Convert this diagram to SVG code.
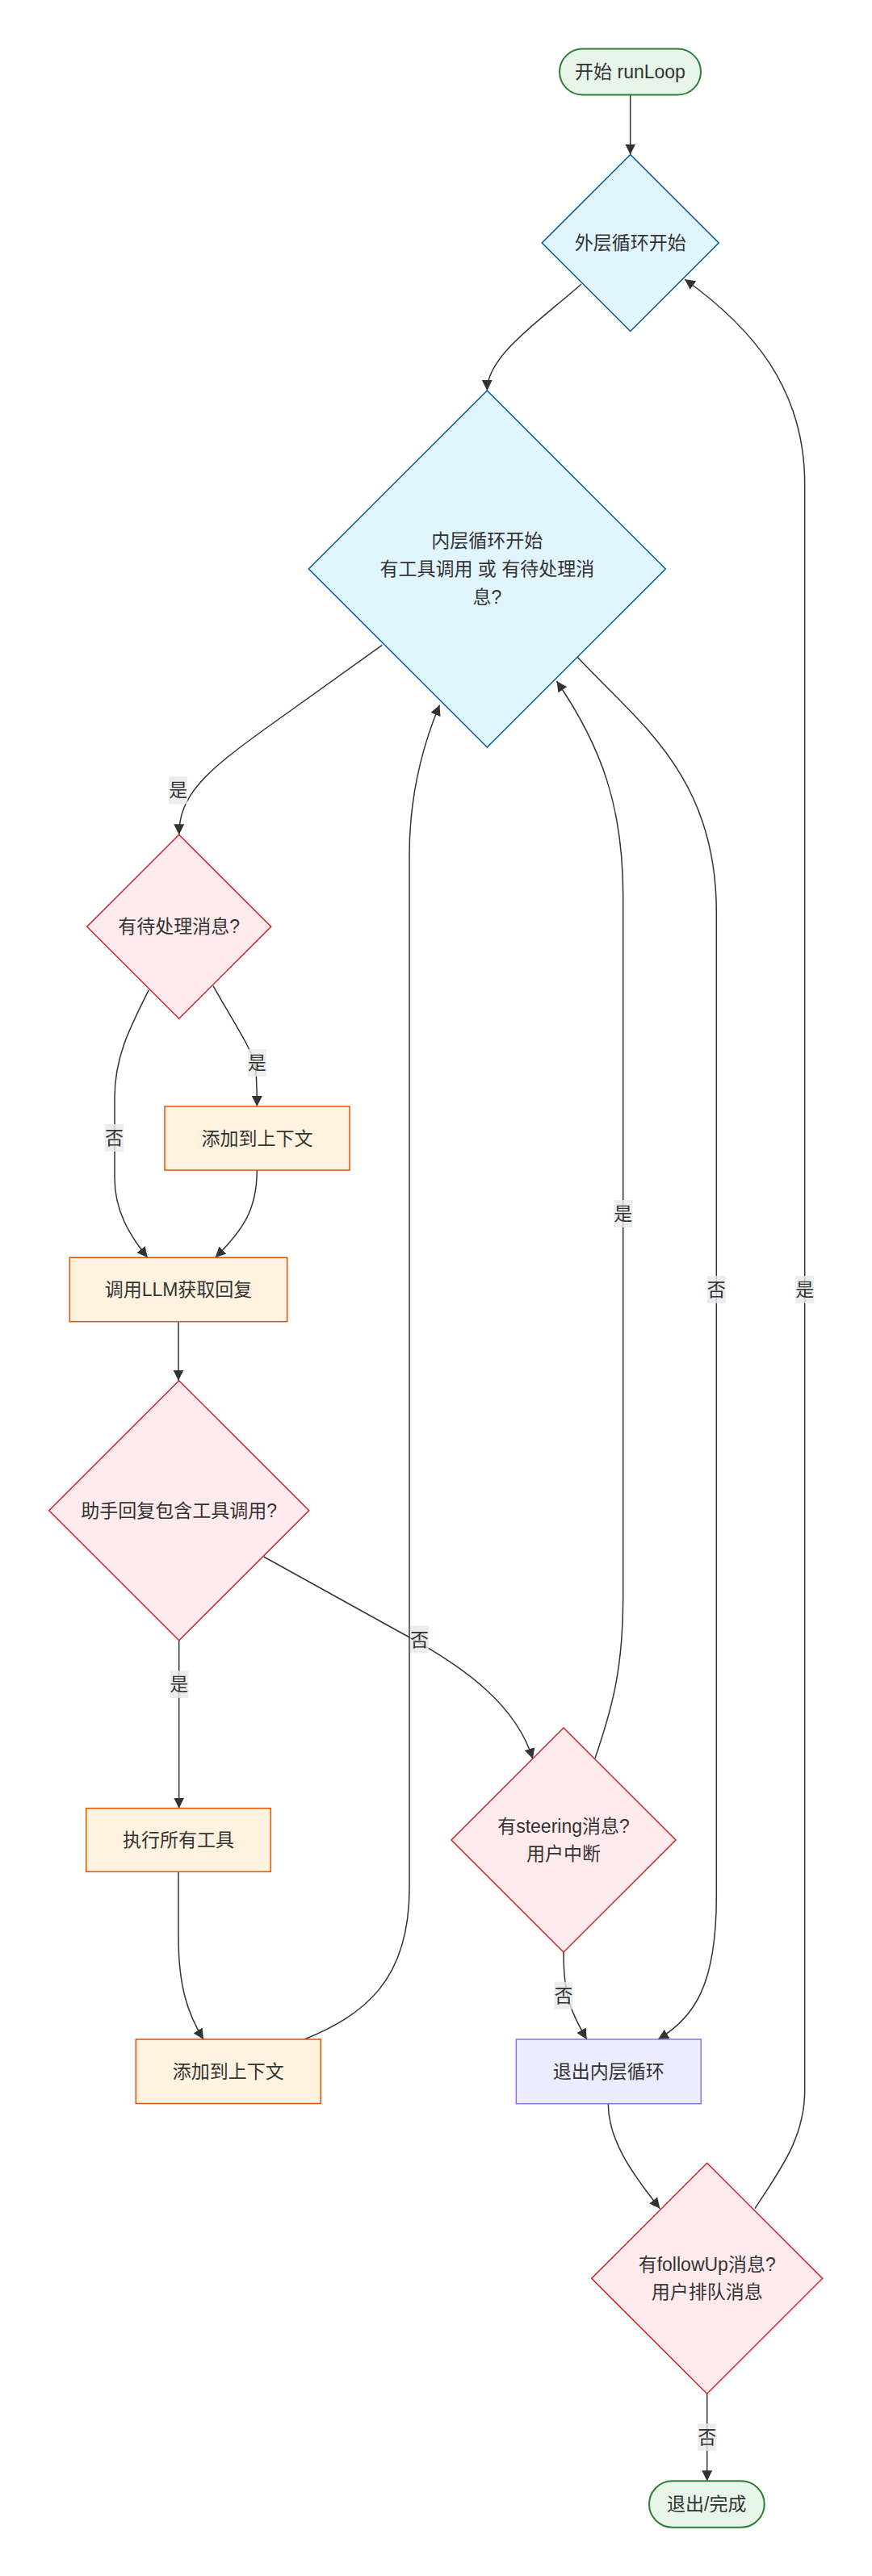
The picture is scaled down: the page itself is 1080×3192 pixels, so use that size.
<svg xmlns="http://www.w3.org/2000/svg" width="1080" height="3192" viewBox="0 0 1080 3192">
<style>
text{font-family:"Liberation Sans","Noto Sans CJK SC",sans-serif;font-size:23px;fill:#333;text-anchor:middle;dominant-baseline:central}
.term{fill:#e8f5e9;stroke:#2e7d32;stroke-width:2}
.loop{fill:#e1f5fe;stroke:#01579b;stroke-width:1.5}
.dec{fill:#ffebee;stroke:#c62828;stroke-width:1.5}
.proc{fill:#fff3e0;stroke:#e65100;stroke-width:1.5}
.exit{fill:#ececff;stroke:#9370db;stroke-width:1.5}
.edge{fill:none;stroke:#333;stroke-width:1.5}
.lbl{fill:#e8e8e8;fill-opacity:0.8}
</style>
<defs>
<marker id="arrow" viewBox="0 0 10 10" refX="10" refY="5" markerUnits="userSpaceOnUse" markerWidth="13" markerHeight="13" orient="auto">
<path d="M0,0 L10,5 L0,10 z" fill="#333"/>
</marker>
</defs>
<rect width="1080" height="3192" fill="#ffffff"/>
<g id="connectors">
<path class="edge" marker-end="url(#arrow)" d="M780.7,117.5 L780.7,191.5"/>
<path class="edge" marker-end="url(#arrow)" d="M720,352 C672,395 603,440 603.3,484"/>
<path class="edge" marker-end="url(#arrow)" d="M473.3,799.3 L330,902 C255,956 221.7,985 221.7,1034.3"/>
<path class="edge" marker-end="url(#arrow)" d="M184.3,1226.7 C160,1275 142,1310 142,1360 L142,1460 C142,1500 160,1530 182.7,1558.3"/>
<path class="edge" marker-end="url(#arrow)" d="M264,1221.7 C290,1268 312,1300 316,1320 C318,1335 318.3,1350 318.3,1371"/>
<path class="edge" marker-end="url(#arrow)" d="M318.3,1450 C318.3,1500 300,1525 266.7,1558.3"/>
<path class="edge" marker-end="url(#arrow)" d="M221,1637.7 L221,1710.7"/>
<path class="edge" marker-end="url(#arrow)" d="M326.7,1929 L500,2025 C580,2068 640,2115 659.9,2179.6"/>
<path class="edge" marker-end="url(#arrow)" d="M221.7,2032.7 L221.7,2240.7"/>
<path class="edge" marker-end="url(#arrow)" d="M221,2319.3 L221,2400 C221,2460 232,2495 252,2527"/>
<path class="edge" marker-end="url(#arrow)" d="M377,2527 C450,2497 507,2455 507,2340 L507,1060 C507,980 525,920 544.5,873.5"/>
<path class="edge" marker-end="url(#arrow)" d="M698,2419 C698,2470 705,2490 726.7,2527"/>
<path class="edge" marker-end="url(#arrow)" d="M737,2178.8 C757,2120 771.7,2070 771.7,1980 L771.7,1110 C771.7,1000 745,925 689.5,844"/>
<path class="edge" marker-end="url(#arrow)" d="M715,814 C790,895 887.3,960 887.3,1130 L887.3,2350 C887.3,2460 860,2500 815,2527"/>
<path class="edge" marker-end="url(#arrow)" d="M753.3,2606.7 C753.3,2650 780,2690 817.3,2736.7"/>
<path class="edge" marker-end="url(#arrow)" d="M935,2736.7 C965,2690 996.7,2650 996.7,2590 L996.7,600 C996.7,480 930,405 848,346"/>
<path class="edge" marker-end="url(#arrow)" d="M875.7,2966.3 L875.7,3074.3"/>
</g>
<g id="edge-labels">
<g id="lbl1"><rect class="lbl" x="209.2" y="962.3" width="23" height="34"/><text x="220.7" y="979.3">是</text></g>
<g id="lbl2"><rect class="lbl" x="130" y="1393" width="23" height="34"/><text x="141.5" y="1410">否</text></g>
<g id="lbl3"><rect class="lbl" x="306.8" y="1300" width="23" height="34"/><text x="318.3" y="1317">是</text></g>
<g id="lbl4"><rect class="lbl" x="507.9" y="2014.5" width="23" height="34"/><text x="519.4" y="2031.5">否</text></g>
<g id="lbl5"><rect class="lbl" x="210.2" y="2070" width="23" height="34"/><text x="221.7" y="2087">是</text></g>
<g id="lbl6"><rect class="lbl" x="686.4" y="2455.7" width="23" height="34"/><text x="697.9" y="2472.7">否</text></g>
<g id="lbl7"><rect class="lbl" x="760.2" y="1487" width="23" height="34"/><text x="771.7" y="1504">是</text></g>
<g id="lbl8"><rect class="lbl" x="875.8" y="1581" width="23" height="34"/><text x="887.3" y="1598">否</text></g>
<g id="lbl9"><rect class="lbl" x="985.2" y="1581" width="23" height="34"/><text x="996.7" y="1598">是</text></g>
<g id="lbl10"><rect class="lbl" x="864.2" y="3003" width="23" height="34"/><text x="875.7" y="3020">否</text></g>
</g>
<g id="start"><rect class="term" x="693" y="60.5" width="175" height="57" rx="28.5"/><text x="780.5" y="89">开始 runLoop</text></g>
<g id="outer"><polygon class="loop" points="780.7,191.5 890.2,301 780.7,410.5 671.2,301"/><text x="780.7" y="301">外层循环开始</text></g>
<g id="inner"><polygon class="loop" points="603.3,484 824.3,705 603.3,926 382.3,705"/><text x="603.3" y="670">内层循环开始</text><text x="603.3" y="705">有工具调用 或 有待处理消</text><text x="603.3" y="740">息?</text></g>
<g id="pending"><polygon class="dec" points="221.7,1034.3 335.7,1148.3 221.7,1262.3 107.7,1148.3"/><text x="221.7" y="1148.3">有待处理消息?</text></g>
<g id="addctx1"><rect class="proc" x="204" y="1371" width="229" height="79"/><text x="318.5" y="1410.5">添加到上下文</text></g>
<g id="llm"><rect class="proc" x="86.3" y="1558.3" width="269.4" height="79.4"/><text x="221" y="1598">调用LLM获取回复</text></g>
<g id="assistant"><polygon class="dec" points="221.7,1710.7 382.7,1871.7 221.7,2032.7 60.7,1871.7"/><text x="221.7" y="1871.7">助手回复包含工具调用?</text></g>
<g id="exec"><rect class="proc" x="106.7" y="2240.7" width="228.6" height="78.6"/><text x="221" y="2280">执行所有工具</text></g>
<g id="addctx2"><rect class="proc" x="168.3" y="2527" width="229" height="79.5"/><text x="282.8" y="2566.7">添加到上下文</text></g>
<g id="steering"><polygon class="dec" points="698,2141 837,2280 698,2419 559,2280"/><text x="698" y="2263">有steering消息?</text><text x="698" y="2297">用户中断</text></g>
<g id="exitinner"><rect class="exit" x="639.3" y="2527" width="229" height="79.7"/><text x="753.8" y="2566.8">退出内层循环</text></g>
<g id="followup"><polygon class="dec" points="875.7,2680.3 1018.7,2823.3 875.7,2966.3 732.7,2823.3"/><text x="875.7" y="2806">有followUp消息?</text><text x="875.7" y="2840">用户排队消息</text></g>
<g id="end"><rect class="term" x="804" y="3074.3" width="142.7" height="57.4" rx="28.7"/><text x="875.3" y="3103">退出/完成</text></g>
</svg>
